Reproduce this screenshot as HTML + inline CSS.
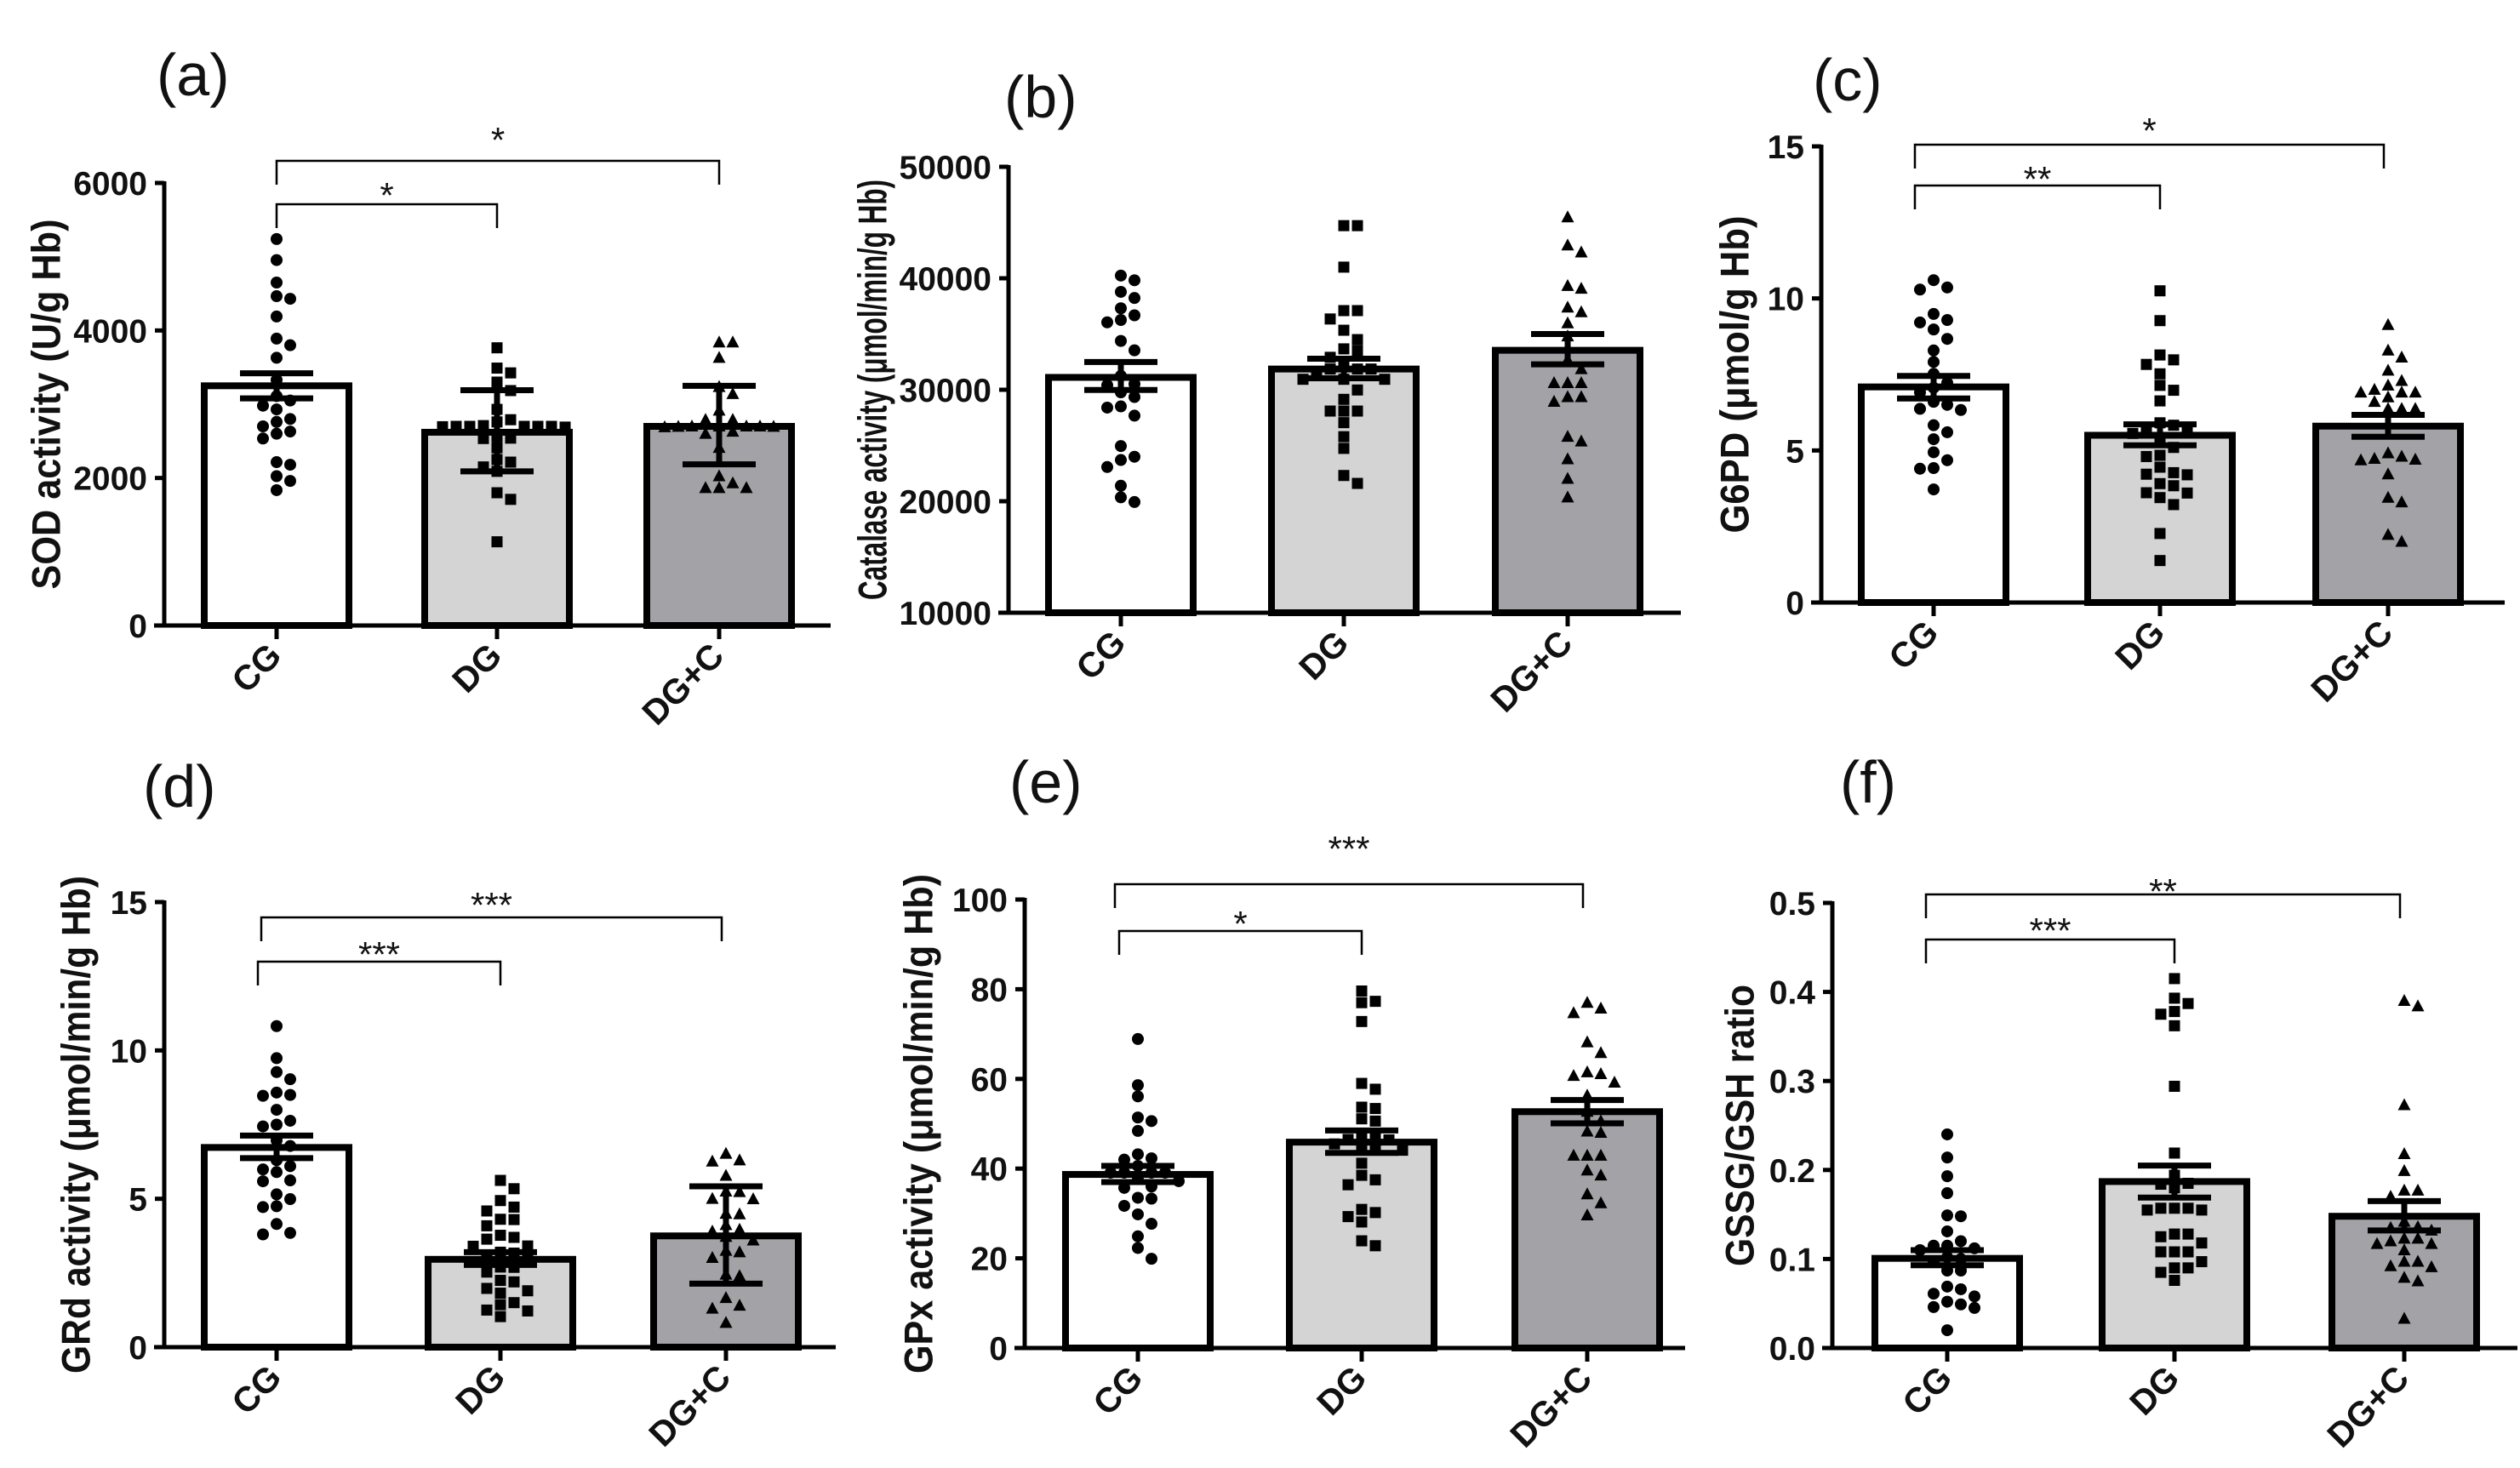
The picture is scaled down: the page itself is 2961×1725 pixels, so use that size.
<!DOCTYPE html>
<html><head><meta charset="utf-8"><style>
html,body{margin:0;padding:0;background:#fff;overflow:hidden}
svg{display:block}
text{font-family:"Liberation Sans",Arial,sans-serif}
</style></head><body>
<svg id="fig" width="2961" height="1725" viewBox="0 0 2961 1725" xmlns="http://www.w3.org/2000/svg"></svg>
<script>
// ---------- DATA ----------
const categories = ["CG","DG","DG+C"];
// (a) SOD
const aTicks = [0,2000,4000,6000];
const aTickLabels = ["0","2000","4000","6000"];
const aMean = [3250,2620,2700];
const aErrHi = [3420,3190,3250];
const aErrLo = [3080,2090,2185];
const aCG = [5240,4955,4650,4465,4430,4190,3890,3800,3630,3330,3110,2980,2930,3050,2800,2760,2630,2535,2215,2025,1960,1835,2700,2600,2180];
const aDG = [3765,3490,3425,3300,3185,2930,2790,2760,2710,2700,2700,2695,2700,2690,2700,2700,2535,2410,2250,2215,2150,2090,1800,1710,1135,2540,2560];
const aDGC = [3840,3840,3630,3235,3140,2915,2790,2700,2695,2700,2690,2700,2700,2695,2630,2410,2025,1930,1865,1865,1865,2790,2600];
// (b) Catalase
const bTicks = [10000,20000,30000,40000,50000];
const bTickLabels = ["10000","20000","30000","40000","50000"];
const bMean = [31110,31860,33540];
const bErrHi = [32490,32790,35000];
const bErrLo = [29980,31030,32280];
const bCG = [40240,39820,38780,38230,37310,36680,36260,36050,34380,33540,31240,30520,29770,29350,28510,27680,24950,23990,23700,23070,21390,20350,19930,28400,30400];
const bDG = [44720,44720,41000,37100,37100,36350,35340,34500,33670,32910,32280,31860,31860,31860,31440,30940,30940,30940,29980,29140,28090,28090,28090,27050,25790,24740,22310,21600,33500];
const bDGC = [45480,42960,42330,39320,39070,37390,36970,35970,34800,33750,32700,31860,30610,30610,30610,29350,29350,28930,25790,25370,23780,22020,20350];
// (c) G6PD
const cTicks = [0,5,10,15];
const cTickLabels = ["0","5","10","15"];
const cMean = [7.09,5.5,5.8];
const cErrHi = [7.45,5.86,6.17];
const cErrLo = [6.71,5.17,5.45];
const cCG = [10.6,10.36,10.29,9.49,9.29,9.21,8.98,8.67,8.29,7.91,7.52,7.22,7.06,6.91,6.6,6.37,6.33,5.83,5.6,5.37,4.94,4.68,4.42,3.72,6.5,4.4];
const cDG = [10.25,9.27,8.14,7.98,7.83,7.52,7.14,6.98,6.63,5.91,5.83,5.76,5.56,5.37,5.1,4.84,4.45,4.27,4.22,3.91,3.84,3.61,3.45,3.22,2.27,1.38,5.7,4.2,3.6,4.8];
const cDGC = [9.13,8.29,8.06,7.63,7.29,7.14,6.91,6.91,6.91,6.75,6.37,6.37,6.37,4.91,4.73,4.68,4.22,3.45,3.3,2.23,2.0,7.0,4.7,4.8,6.6];
// (d) GRd
const dTicks = [0,5,10,15];
const dTickLabels = ["0","5","10","15"];
const dMean = [6.73,2.96,3.75];
const dErrHi = [7.13,3.2,5.42];
const dErrLo = [6.37,2.77,2.14];
const dCG = [10.82,9.74,9.27,9.03,8.58,8.47,8.0,7.63,7.44,6.97,6.78,6.3,5.99,5.62,5.59,5.15,4.99,4.72,4.15,3.8,7.5,5.9,4.75,3.85,8.5,6.1];
const dDG = [5.62,5.34,4.94,4.72,4.59,4.31,4.09,3.77,3.64,3.41,3.17,2.93,2.69,2.53,2.25,1.98,1.82,1.43,1.22,1.03,4.3,3.7,3.4,3.0,2.7,2.2,1.9,1.5,1.25,3.2];
const dDGC = [6.52,6.26,5.78,5.23,4.99,4.48,4.12,3.96,3.72,3.6,3.2,3.01,2.45,1.66,1.3,0.82,6.3,5.25,4.5,3.9,3.25,2.4,1.4,5.0];
// (e) GPx
const eTicks = [0,20,40,60,80,100];
const eTickLabels = ["0","20","40","60","80","100"];
const eMean = [38.7,45.9,52.7];
const eErrHi = [40.6,48.5,55.3];
const eErrLo = [37.0,43.5,50.1];
const eCG = [68.9,58.6,56.1,51.4,50.6,48.4,43.2,42.0,40.6,39.1,39.1,39.1,39.1,38.0,37.2,35.7,33.5,31.7,29.8,27.7,24.9,22.3,19.9,42.3,33.3,36.0];
const eDG = [79.6,77.3,77.0,72.8,59.0,57.7,53.7,53.4,51.1,50.6,47.4,46.4,45.5,44.8,44.1,41.2,38.5,37.5,36.4,30.9,30.2,29.3,28.1,23.9,22.8,46.5,44.5,47.0];
const eDGC = [77.0,75.7,74.7,68.2,65.8,61.1,60.7,59.2,56.3,52.7,50.6,48.3,42.9,42.9,42.9,39.6,38.5,34.3,32.3,29.6,61.5,48.0];
// (f) GSSG/GSH
const fTicks = [0,0.1,0.2,0.3,0.4,0.5];
const fTickLabels = ["0.0","0.1","0.2","0.3","0.4","0.5"];
const fMean = [0.1007,0.187,0.148];
const fErrHi = [0.11,0.205,0.165];
const fErrLo = [0.093,0.169,0.132];
const fCG = [0.24,0.214,0.193,0.174,0.149,0.131,0.12,0.115,0.112,0.102,0.097,0.087,0.069,0.066,0.061,0.058,0.052,0.049,0.046,0.02,0.148,0.115,0.1,0.087,0.045,0.11];
const fDG = [0.415,0.393,0.387,0.378,0.362,0.294,0.219,0.194,0.184,0.18,0.157,0.157,0.157,0.155,0.128,0.128,0.118,0.108,0.108,0.108,0.097,0.09,0.085,0.076,0.375,0.185,0.155,0.125,0.09];
const fDGC = [0.39,0.384,0.273,0.218,0.199,0.177,0.177,0.17,0.142,0.136,0.132,0.123,0.123,0.117,0.11,0.097,0.091,0.079,0.075,0.033,0.135,0.117,0.097,0.092,0.12];

// ---------- LAYOUT ----------
const panels = [
 {id:"a",label:"(a)",lx:184,ly:112,ax:193,yT:215,yB:735,min:0,max:6000,ticks:aTicks,tl:aTickLabels,cx:[325,584,845],xEnd:976,
  title:"SOD activity (U/g Hb)",tx:54,tLen:435,mean:aMean,hi:aErrHi,lo:aErrLo,pts:[aCG,aDG,aDGC],
  br:[{to:1,y:240,s:"*",sy:219,lo:0},{to:2,y:189,s:"*",sy:154,lo:0}]},
 {id:"b",label:"(b)",lx:1180,ly:138,ax:1185,yT:196,yB:720,min:10000,max:50000,ticks:bTicks,tl:bTickLabels,cx:[1317,1579,1842],xEnd:1975,
  title:"Catalase activity (\u03bcmol/min/g Hb)",tx:1025,tLen:494,mean:bMean,hi:bErrHi,lo:bErrLo,pts:[bCG,bDG,bDGC],br:[]},
 {id:"c",label:"(c)",lx:2130,ly:118,ax:2140,yT:172,yB:708,min:0,max:15,ticks:cTicks,tl:cTickLabels,cx:[2272,2538,2806],xEnd:2943,
  title:"G6PD (\u03bcmol/g Hb)",tx:2038,tLen:373,mean:cMean,hi:cErrHi,lo:cErrLo,pts:[cCG,cDG,cDGC],
  br:[{to:1,y:218,s:"**",sy:200,lo:-22},{to:2,y:170,s:"*",sy:143,lo:-22}]},
 {id:"d",label:"(d)",lx:168,ly:948,ax:193,yT:1060,yB:1583,min:0,max:15,ticks:dTicks,tl:dTickLabels,cx:[325,588,853],xEnd:982,
  title:"GRd activity (\u03bcmol/min/g Hb)",tx:89,tLen:585,mean:dMean,hi:dErrHi,lo:dErrLo,pts:[dCG,dDG,dDGC],
  br:[{to:1,y:1130,s:"***",sy:1111,lo:-22},{to:2,y:1078,s:"***",sy:1053,lo:-18}]},
 {id:"e",label:"(e)",lx:1186,ly:943,ax:1204,yT:1057,yB:1584,min:0,max:100,ticks:eTicks,tl:eTickLabels,cx:[1337,1600,1865],xEnd:1980,
  title:"GPx activity (\u03bcmol/min/g Hb)",tx:1079,tLen:587,mean:eMean,hi:eErrHi,lo:eErrLo,pts:[eCG,eDG,eDGC],
  br:[{to:1,y:1094,s:"*",sy:1075,lo:-22},{to:2,y:1039,s:"***",sy:987,lo:-27}]},
 {id:"f",label:"(f)",lx:2162,ly:943,ax:2153,yT:1061,yB:1584,min:0,max:0.5,ticks:fTicks,tl:fTickLabels,cx:[2288,2555,2825],xEnd:2958,
  title:"GSSG/GSH ratio",tx:2044,tLen:331,mean:fMean,hi:fErrHi,lo:fErrLo,pts:[fCG,fDG,fDGC],
  br:[{to:1,y:1104,s:"***",sy:1083,lo:-25},{to:2,y:1051,s:"**",sy:1037,lo:-25}]}
];
const fills = ["#ffffff","#d4d4d4","#a3a2a7"];
const NS = "http://www.w3.org/2000/svg";
const svg = document.getElementById("fig");
function mk(tag, attrs, parent){ const e=document.createElementNS(NS,tag); for(const k in attrs) e.setAttribute(k,attrs[k]); (parent||svg).appendChild(e); return e; }

panels.forEach(p=>{
  const g = mk("g",{});
  
  
  const Y = v => p.yB - (v-p.min)/(p.max-p.min)*(p.yB-p.yT);
  const pl = mk("text",{x:p.lx,y:p.ly,"font-size":70,fill:"#111"},g); pl.textContent=p.label;
  
  
  const cy=(p.yT+p.yB)/2;
  const tt = mk("text",{x:p.tx,y:cy,"font-size":47,"font-weight":"bold","text-anchor":"middle","dominant-baseline":"central",transform:`rotate(-90 ${p.tx} ${cy})`,textLength:p.tLen,lengthAdjust:"spacingAndGlyphs",fill:"#111"},g);
  tt.textContent=p.title;
  
  
  p.cx.forEach((x,i)=>{
    const top=Y(p.mean[i]);
    const r = mk("rect",{x:x-85,y:top,width:170,height:p.yB-top,fill:fills[i],stroke:"#000","stroke-width":8},g);
    
    
  });
  p.pts.forEach((arr,i)=>{
    const placed=[];
    const order = arr.map((v,k)=>k).sort((a,b)=>arr[b]-arr[a]);
    order.forEach(k=>{
      const py=Y(arr[k]); let off=0;
      for(let s=0;s<40;s++){
        const cand = s===0?0:(s%2? 1:-1)*Math.ceil(s/2)*16;
        if(!placed.some(q=>Math.abs(q[0]-cand)<15 && Math.abs(q[1]-py)<13)){off=cand;break;}
      }
      placed.push([off,py]);
      const x=p.cx[i]+off; let m;
      if(i===0) m=mk("circle",{cx:x,cy:py,r:7,fill:"#000"},g);
      else if(i===1) m=mk("rect",{x:x-6.5,y:py-6.5,width:13,height:13,fill:"#000"},g);
      else m=mk("polygon",{points:`${x},${py-8} ${x-7.5},${py+6} ${x+7.5},${py+6}`,fill:"#000"},g);
      
      
    });
  });
  p.cx.forEach((x,i)=>{
    const h=Y(p.hi[i]), l=Y(p.lo[i]);
    const eb = mk("path",{d:`M${x} ${h}V${l}M${x-43} ${h}H${x+43}M${x-43} ${l}H${x+43}`,stroke:"#000","stroke-width":7,fill:"none"},g);
    
    
  });
  const ya = mk("line",{x1:p.ax,y1:p.yT-2,x2:p.ax,y2:p.yB+2,stroke:"#000","stroke-width":5},g);
  
  
  const xa = mk("line",{x1:p.ax-12,y1:p.yB,x2:p.xEnd,y2:p.yB,stroke:"#000","stroke-width":5},g);
  
  
  p.ticks.forEach((t,k)=>{
    const y=Y(t);
    mk("line",{x1:p.ax-11,y1:y,x2:p.ax,y2:y,stroke:"#000","stroke-width":5},g);
    const tl = mk("text",{x:p.ax-20,y:y+14,"font-size":39,"font-weight":"bold","text-anchor":"end",fill:"#111"},g);
    tl.textContent=p.tl[k];
    
    
  });
  p.cx.forEach((x,i)=>{
    mk("line",{x1:x,y1:p.yB,x2:x,y2:p.yB+16,stroke:"#000","stroke-width":5},g);
    const ty=p.yB+38;
    const xl = mk("text",{x:x+8,y:ty,"font-size":41,"font-weight":"bold","text-anchor":"end",transform:`rotate(-45 ${x+8} ${ty})`,fill:"#111"},g);
    xl.textContent=categories[i];
    
    
  });
  p.br.forEach(b=>{
    const x0=p.cx[0]+b.lo, x1=p.cx[b.to]+(b.to===2&&b.lo<0?-5:0);
    const bp = mk("path",{d:`M${x0} ${b.y+28}V${b.y}H${x1}V${b.y+28}`,stroke:"#000","stroke-width":2.5,fill:"none"},g);
    
    
    const st = mk("text",{x:(x0+x1)/2,y:b.sy+25,"font-size":42,"text-anchor":"middle",fill:"#111"},g);
    st.textContent=b.s;
    
    
  });
});
</script>
</body></html>
